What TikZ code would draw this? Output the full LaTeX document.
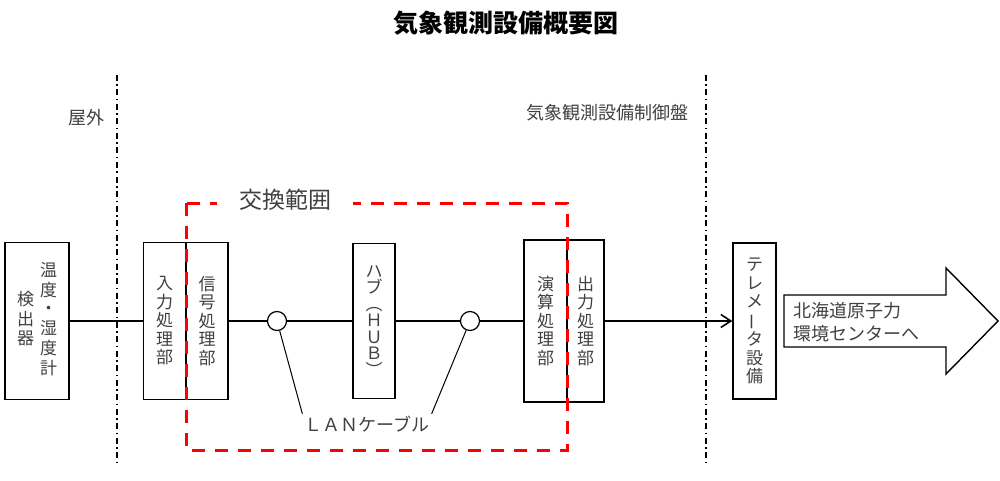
\documentclass[tikz,border=0pt]{standalone}
\usepackage{fontspec}
\usepackage{tikz}
\usetikzlibrary{arrows.meta,positioning}
\newfontfamily\jpfont{Noto Sans CJK JP}
\definecolor{inkx}{HTML}{404040}
\definecolor{redx}{HTML}{FF0000}
\newcommand{\vbar}{\rotatebox[origin=c]{90}{ー}}
\newcommand{\vcol}[1]{$\vcenter{\hbox{\begin{tabular}{@{}c@{}}#1\end{tabular}}}$}
\tikzset{
  box/.style={draw,line width=1.4pt,inner sep=0pt,minimum width=42pt,minimum height=157pt,
    font=\jpfont\fontsize{17}{18.5}\selectfont,text=inkx},
  unit/.style={box,align=center},
  lbl/.style={font=\jpfont\fontsize{18}{20}\selectfont,text=inkx,inner sep=2pt},
  wire/.style={line width=1.6pt},
  sepline/.style={line width=1.2pt,dash pattern=on 6pt off 3.5pt on 1.5pt off 3.5pt},
  zone/.style={redx,line width=3pt,dash pattern=on 13pt off 10pt},
  tap/.style={draw,circle,line width=1.2pt,minimum size=19pt,inner sep=0pt}
}
\begin{document}
\begin{tikzpicture}[x=1pt,y=-1pt]
\useasboundingbox (0,0) rectangle (1000,481);
\node[font=\jpfont\bfseries\fontsize{25}{28}\selectfont] (title) at (506,23) {気象観測設備概要図};
% outdoor / panel boundaries
\coordinate (s1t) at (117,75); \coordinate (s1b) at (117,465);
\coordinate (s2t) at (706,75); \coordinate (s2b) at (706,465);
\draw[sepline] (s1t) -- (s1b);
\draw[sepline] (s2t) -- (s2b);
\node[lbl] (outdoor) at (86,118) {屋外};
\node[lbl] (panel) at (607,113) {気象観測設備制御盤};
% units
\node[box,minimum width=64pt] (sensor) at (37,321) {\vcol{検\\出\\器}\hspace{6pt}\vcol{温\\度\\・\\湿\\度\\計}};
\node[unit] (inproc) at (164.5,321) {入\\力\\処\\理\\部};
\node[unit] (sigproc) at (207,321) {信\\号\\処\\理\\部};
\node[unit,minimum height=155pt,font=\jpfont\fontsize{17}{16.5}\selectfont] (hub) at (374,321) {ハ\\ブ\\︵\\Ｈ\\Ｕ\\Ｂ\\︶};
\node[unit,minimum width=43pt,minimum height=162pt] (calc) at (545.5,321) {演\\算\\処\\理\\部};
\node[unit,minimum width=37pt,minimum height=162pt] (outproc) at (585.5,321) {出\\力\\処\\理\\部};
\node[unit,minimum width=43pt,minimum height=156pt] (tele) at (754.5,321) {テ\\レ\\メ\\\vbar\\タ\\設\\備};
% LAN
\node[tap] (lan1) at (277,321) {};
\node[tap] (lan2) at (470,321) {};
\node[lbl] (cable) at (367,424) {ＬＡＮケーブル};
\draw[wire] (sensor) -- (inproc);
\draw[wire] (sigproc) -- (lan1);
\draw[wire] (lan1) -- (hub);
\draw[wire] (hub) -- (lan2);
\draw[wire] (lan2) -- (calc);
\draw[wire,-{Straight Barb[length=10pt,width=13pt]}] (outproc) -- (tele);
\draw[line width=1pt] (lan1) -- (cable.north west);
\draw[line width=1pt] (lan2) -- (cable.north east);
% destination arrow
\draw[line width=1.4pt] (784,295) -- (946,295) -- (946,268) -- (998,321) -- (946,374) -- (946,347) -- (784,347) -- cycle;
\node[lbl,anchor=west,align=left,font=\jpfont\fontsize{18}{23}\selectfont] (dest) at (791,322) {北海道原子力\\環境センターへ};
% exchange range
\draw[zone] (186,203) rectangle (567,450);
\node[lbl,fill=white,minimum width=136pt,font=\jpfont\fontsize{23}{25}\selectfont] (zonetitle) at (285,200) {交換範囲};
\end{tikzpicture}
\end{document}
